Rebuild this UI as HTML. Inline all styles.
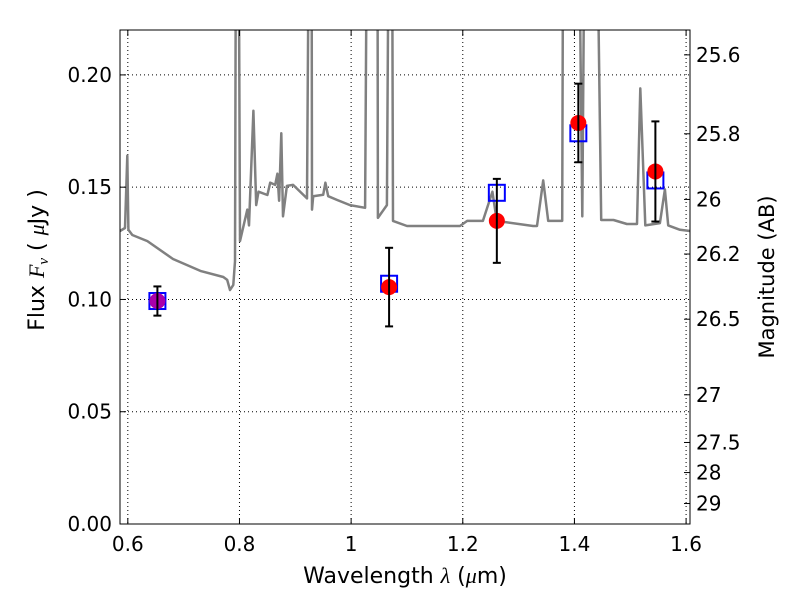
<!DOCTYPE html>
<html><head><meta charset="utf-8"><style>
body{margin:0;background:#fff}
svg{display:block;font-family:"DejaVu Sans","Liberation Sans",sans-serif}
</style></head><body>
<svg id="chart" width="800" height="600" viewBox="0 0 800 600" xmlns="http://www.w3.org/2000/svg">
<rect width="800" height="600" fill="#fff"/>
<defs><clipPath id="clip"><rect x="120" y="30" width="570" height="494"/></clipPath></defs>
<g id="grid"></g>
<g id="spec" clip-path="url(#clip)"></g>
<g id="marks"></g>
<rect x="120" y="30" width="570" height="494" fill="none" stroke="#000" stroke-width="1"/>
<g id="axes"></g>
<text x="405" y="583" font-size="22" text-anchor="middle">Wavelength  <tspan font-style="italic" font-family="Liberation Serif, serif">λ</tspan> (<tspan font-style="italic" font-family="Liberation Serif, serif">μ</tspan>m)</text>
<text transform="translate(44,260) rotate(-90)" font-size="22" text-anchor="middle">Flux  <tspan font-style="italic" font-family="Liberation Serif, serif">F<tspan font-size="15" dy="4">ν</tspan></tspan><tspan dy="-4">  (  </tspan><tspan font-style="italic" font-family="Liberation Serif, serif">μ</tspan>Jy )</text>
<text transform="translate(774,277) rotate(-90)" font-size="21" text-anchor="middle">Magnitude (AB)</text>
</svg>
<script>
const specWl=[0.586,0.595,0.599,0.601,0.608,0.635,0.681,0.730,0.771,0.778,0.783,0.789,0.792,0.794,0.798,0.801,0.814,0.817,0.825,0.830,0.834,0.850,0.855,0.864,0.868,0.871,0.875,0.878,0.885,0.896,0.921,0.925,0.929,0.930,0.932,0.950,0.954,0.959,0.975,0.998,1.025,1.029,1.047,1.048,1.064,1.068,1.073,1.075,1.100,1.124,1.195,1.208,1.236,1.253,1.261,1.326,1.333,1.344,1.353,1.378,1.380,1.407,1.414,1.419,1.439,1.448,1.470,1.494,1.512,1.518,1.527,1.553,1.562,1.568,1.589,1.607];
const specFlux=[0.1305,0.1318,0.164,0.131,0.1287,0.126,0.118,0.1127,0.110,0.1087,0.1042,0.1065,0.117,0.3,0.3,0.126,0.140,0.133,0.184,0.142,0.148,0.1465,0.152,0.151,0.156,0.144,0.174,0.137,0.1506,0.151,0.145,0.3,0.3,0.140,0.146,0.1466,0.152,0.146,0.1443,0.142,0.1408,0.3,0.3,0.1363,0.142,0.3,0.3,0.135,0.1327,0.1327,0.1327,0.135,0.135,0.148,0.135,0.1327,0.1327,0.153,0.135,0.135,0.3,0.3,0.137,0.3,0.3,0.1354,0.1354,0.1336,0.1336,0.194,0.133,0.134,0.149,0.133,0.131,0.1305];
const photWl=[0.653,1.068,1.261,1.407,1.545];
const obsFlux=[0.0993,0.1055,0.135,0.1786,0.157];
const obsErr=[0.0065,0.0175,0.0187,0.0175,0.0223];
const modelFlux=[0.0993,0.107,0.1475,0.174,0.153];
const xTicks=[0.6,0.8,1.0,1.2,1.4,1.6];
const xTickLabels=["0.6","0.8","1","1.2","1.4","1.6"];
const yTicks=[0,0.05,0.10,0.15,0.20];
const yTickLabels=["0.00","0.05","0.10","0.15","0.20"];
const magTicks=[25.6,25.8,26,26.2,26.5,27,27.5,28,29];
const magTickLabels=["25.6","25.8","26","26.2","26.5","27","27.5","28","29"];
const X0=120,X1=690,Y0=30,Y1=524,XMIN=0.586,XMAX=1.607,YMIN=0,YMAX=0.22;
const xs=v=>X0+(v-XMIN)/(XMAX-XMIN)*(X1-X0);
const ys=v=>Y1-(v-YMIN)/(YMAX-YMIN)*(Y1-Y0);
const magToFlux=m=>Math.pow(10,(23.9-m)/2.5);
const NS="http://www.w3.org/2000/svg";
function mk(tag,attrs,parent){const e=document.createElementNS(NS,tag);for(const k in attrs)e.setAttribute(k,attrs[k]);parent.appendChild(e);return e;}
const grid=document.getElementById('grid'),axes=document.getElementById('axes'),spec=document.getElementById('spec'),marks=document.getElementById('marks');
xTicks.forEach((t,i)=>{const x=xs(t);
 const g=mk('line',{x1:x,x2:x,y1:Y0,y2:Y1,stroke:'#000','stroke-dasharray':'1,3','stroke-width':1},grid);
 
 mk('line',{x1:x,x2:x,y1:Y1,y2:Y1-6,stroke:'#000'},axes);mk('line',{x1:x,x2:x,y1:Y0,y2:Y0+6,stroke:'#000'},axes);
 const tx=mk('text',{x:x,y:Y1+27,'font-size':20,'text-anchor':'middle'},axes);tx.textContent=xTickLabels[i];
 });
yTicks.forEach((t,i)=>{const y=ys(t);
 const g=mk('line',{x1:X0,x2:X1,y1:y,y2:y,stroke:'#000','stroke-dasharray':'1,3','stroke-width':1},grid);
 
 mk('line',{x1:X0,x2:X0+6,y1:y,y2:y,stroke:'#000'},axes);
 const tx=mk('text',{x:X0-8,y:y+7,'font-size':20,'text-anchor':'end'},axes);tx.textContent=yTickLabels[i];
 });
magTicks.forEach((m,i)=>{const y=ys(magToFlux(m));
 mk('line',{x1:X1,x2:X1-6,y1:y,y2:y,stroke:'#000'},axes);
 const tx=mk('text',{x:X1+6,y:y+7,'font-size':20},axes);tx.textContent=magTickLabels[i];
 });
const pts=specWl.map((w,i)=>xs(w).toFixed(1)+','+ys(specFlux[i]).toFixed(1)).join(' ');
const pl=mk('polyline',{points:pts,fill:'none',stroke:'#808080','stroke-width':2.5,'stroke-linejoin':'round'},spec);

photWl.forEach((w,i)=>{const x=xs(w);
 const sq=mk('rect',{x:x-8,y:ys(modelFlux[i])-8,width:16,height:16,fill:'none',stroke:'#0000ff','stroke-width':2},marks);
 
 const c=mk('circle',{cx:x,cy:ys(obsFlux[i]),r:8,fill:i===0?'#aa00aa':'#ff0000'},marks);
 
 const eb=mk('g',{},marks);
 const yt=ys(obsFlux[i]+obsErr[i]),yb=ys(obsFlux[i]-obsErr[i]);
 mk('line',{x1:x,x2:x,y1:yt,y2:yb,stroke:'#000','stroke-width':2},eb);
 mk('line',{x1:x-4,x2:x+4,y1:yt,y2:yt,stroke:'#000','stroke-width':2},eb);
 mk('line',{x1:x-4,x2:x+4,y1:yb,y2:yb,stroke:'#000','stroke-width':2},eb);});
</script>
</body></html>
